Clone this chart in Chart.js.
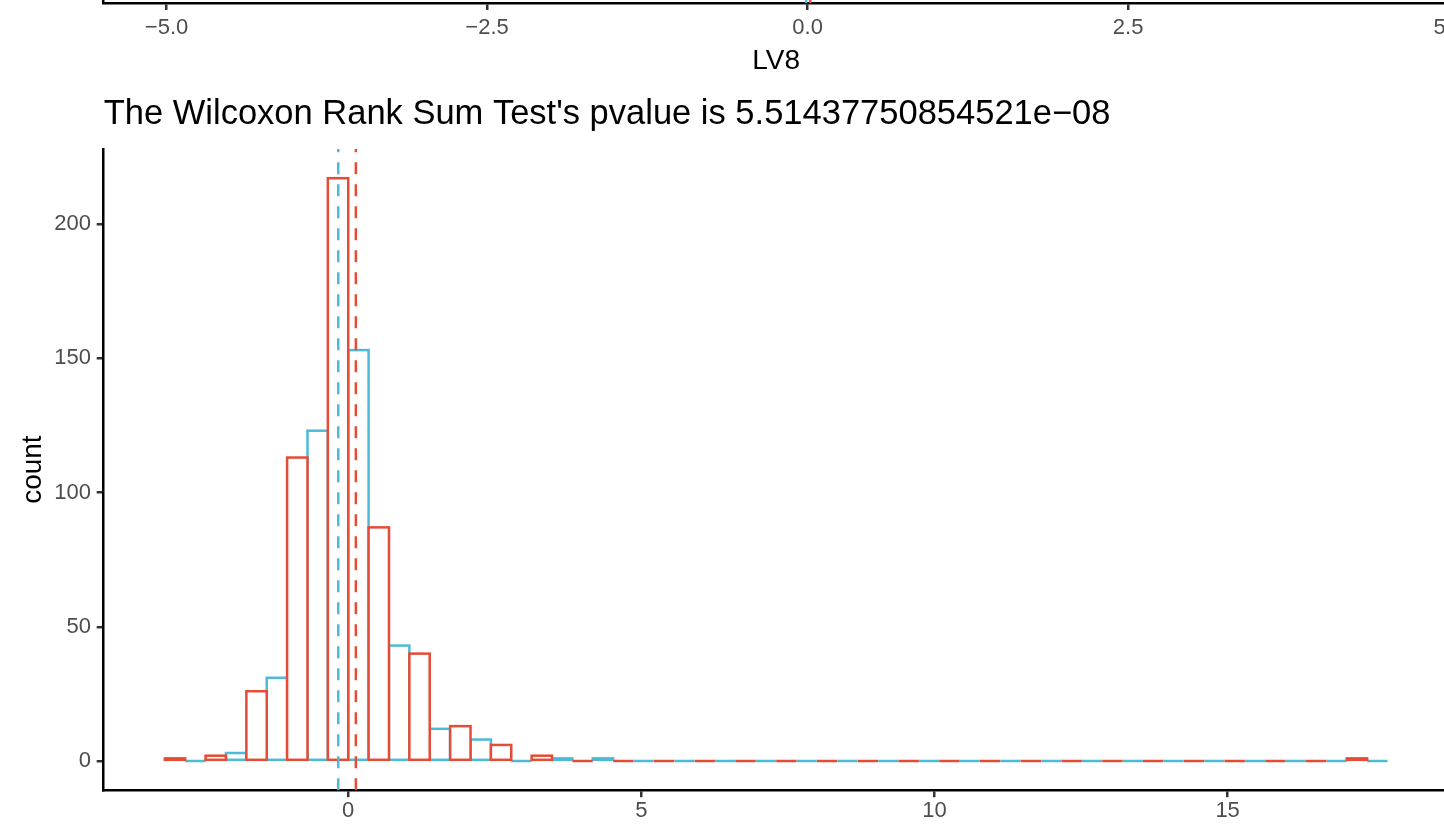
<!DOCTYPE html>
<html>
<head>
<meta charset="utf-8">
<script src="https://cdn.jsdelivr.net/npm/chart.js@4.4.1/dist/chart.umd.min.js"></script>
<style>
  html, body { margin: 0; padding: 0; background: #fff; overflow: hidden; }
  #page { position: relative; width: 1444px; height: 829px; overflow: hidden; background: #fff; }
  #lv8 { position: absolute; left: 0; top: -230px; }
  #hist { position: absolute; left: 0; top: 0; }
</style>
</head>
<body>
<div id="page">
  <canvas id="lv8" width="1500" height="310"></canvas>
  <canvas id="hist" width="1500" height="829"></canvas>
</div>
<script>
// ---- histogram of the second panel: 30 bins, two groups dodged in each bin ----
const binMids = [-2.781, -2.086, -1.390, -0.695, 0.000, 0.695, 1.390, 2.086, 2.781, 3.476,
                 4.171, 4.866, 5.562, 6.257, 6.952, 7.647, 8.342, 9.038, 9.733, 10.428,
                 11.123, 11.818, 12.514, 13.209, 13.904, 14.599, 15.294, 15.990, 16.685, 17.380];
const countsRed  = [1, 2, 26, 113, 217, 87, 40, 13, 6, 2,
                    0, 0, 0, 0, 0, 0, 0, 0, 0, 0,
                    0, 0, 0, 0, 0, 0, 0, 0, 0, 1];
const countsBlue = [0, 3, 31, 123, 153, 43, 12, 8, 0, 1,
                    1, 0, 0, 0, 0, 0, 0, 0, 0, 0,
                    0, 0, 0, 0, 0, 0, 0, 0, 0, 0];
const meanRed = 0.13;
const meanBlue = -0.17;
const xRange = [-4.171, 18.771];
const yRange = [-10.85, 227.85];
const xTicks = [0, 5, 10, 15];
const xTickLabels = ['0', '5', '10', '15'];
const yTicks = [0, 50, 100, 150, 200];
const yTickLabels = ['0', '50', '100', '150', '200'];
const titleText = "The Wilcoxon Rank Sum Test's pvalue is 5.51437750854521e\u221208";

// ---- bottom strip of the panel above (LV8 axis) ----
const lv8Range = [-5.49, 5.0];
const lv8Ticks = [-5, -2.5, 0, 2.5, 5];
const lv8TickLabels = ['\u22125.0', '\u22122.5', '0.0', '2.5', '5.0'];
const lv8MeanBlue = -0.012;
const lv8MeanRed = 0.02;

const RED = '#E64B35';
const BLUE = '#4DBBD5';
const FONT = "'Liberation Sans', Arial, Helvetica, sans-serif";
const TICK_FONT = { family: FONT, size: 22, lineHeight: 1 };
const AXIS_TITLE_FONT = { family: FONT, size: 28, lineHeight: 1.2 };
const LINE_W = 2.5;

// ggplot-style bar outlines: stroke centred on the bar edges, zero-height bars become flat lines
const histOutline = {
  id: 'histOutline',
  afterDatasetDraw(chart, args) {
    const meta = args.meta;
    if (meta.type !== 'bar') return;
    const ds = chart.data.datasets[args.index];
    const { ctx, chartArea } = chart;
    ctx.save();
    ctx.beginPath();
    ctx.rect(chartArea.left, chartArea.top, chartArea.right - chartArea.left, chartArea.bottom - chartArea.top);
    ctx.clip();
    ctx.strokeStyle = ds.outlineColor;
    ctx.lineWidth = LINE_W;
    ctx.lineJoin = 'miter';
    meta.data.forEach(bar => {
      const { x, y, base, width } = bar.getProps(['x', 'y', 'base', 'width'], true);
      ctx.strokeRect(x - width / 2, Math.min(y, base), width, Math.abs(base - y));
    });
    ctx.restore();
  }
};

// dashed vertical mean line, drawn from the bottom of the panel upwards
function vline(xv, y0, y1, color) {
  return {
    type: 'line',
    data: [{ x: xv, y: y0 }, { x: xv, y: y1 }],
    borderColor: color,
    borderWidth: LINE_W,
    borderDash: [12, 10],
    pointRadius: 0,
    fill: false,
    order: 0
  };
}

// LV8 axis strip
new Chart(document.getElementById('lv8'), {
  type: 'line',
  data: {
    datasets: [
      vline(lv8MeanBlue, 0, 1, BLUE),
      vline(lv8MeanRed, 0, 1, RED)
    ]
  },
  options: {
    responsive: false,
    animation: false,
    events: [],
    layout: { padding: { left: 0, right: 51.3, top: 0, bottom: 0 } },
    plugins: { legend: { display: false }, tooltip: { enabled: false }, title: { display: false } },
    scales: {
      x: {
        type: 'linear',
        min: lv8Range[0],
        max: lv8Range[1],
        offset: false,
        afterBuildTicks: s => { s.ticks = lv8Ticks.map(v => ({ value: v })); },
        afterFit: s => { s.height = 77; },
        ticks: {
          callback: v => lv8TickLabels[lv8Ticks.indexOf(v)],
          color: '#4D4D4D', font: TICK_FONT, padding: 7, maxRotation: 0, autoSkip: false
        },
        grid: { display: true, drawOnChartArea: false, drawTicks: true, tickLength: 7, color: '#333333', lineWidth: LINE_W, offset: false },
        border: { display: true, color: '#000000', width: LINE_W },
        title: { display: true, text: 'LV8', color: '#000000', font: AXIS_TITLE_FONT, padding: { top: 0, bottom: 2.2 } }
      },
      y: {
        type: 'linear',
        min: 0,
        max: 1,
        afterFit: s => { s.width = 103.7; },
        ticks: { display: false },
        grid: { display: false },
        border: { display: true, color: '#000000', width: LINE_W }
      }
    }
  }
});

// Histogram panel
new Chart(document.getElementById('hist'), {
  type: 'bar',
  data: {
    datasets: [
      vline(meanBlue, yRange[0], yRange[1], BLUE),
      vline(meanRed, yRange[0], yRange[1], RED),
      {
        label: 'red',
        data: binMids.map((m, i) => ({ x: m, y: countsRed[i] })),
        backgroundColor: '#ffffff',
        borderWidth: 0,
        outlineColor: RED,
        categoryPercentage: 1,
        barPercentage: 1,
        order: 1
      },
      {
        label: 'blue',
        data: binMids.map((m, i) => ({ x: m, y: countsBlue[i] })),
        backgroundColor: '#ffffff',
        borderWidth: 0,
        outlineColor: BLUE,
        categoryPercentage: 1,
        barPercentage: 1,
        order: 2
      }
    ]
  },
  options: {
    responsive: false,
    animation: false,
    events: [],
    layout: { padding: { left: 0, right: 51.3, top: 0, bottom: 0 } },
    plugins: {
      legend: { display: false },
      tooltip: { enabled: false },
      title: {
        display: true,
        text: titleText,
        align: 'start',
        fullSize: false,
        color: '#000000',
        font: { family: FONT, size: 34.5, weight: 'normal', lineHeight: 1 },
        padding: { top: 97.5, bottom: 17.05 }
      }
    },
    scales: {
      x: {
        type: 'linear',
        min: xRange[0],
        max: xRange[1],
        offset: false,
        afterBuildTicks: s => { s.ticks = xTicks.map(v => ({ value: v })); },
        afterFit: s => { s.height = 38.8; },
        ticks: {
          callback: v => xTickLabels[xTicks.indexOf(v)],
          color: '#4D4D4D', font: TICK_FONT, padding: 2.5, maxRotation: 0, autoSkip: false
        },
        grid: { display: true, drawOnChartArea: false, drawTicks: true, tickLength: 7, color: '#333333', lineWidth: LINE_W, offset: false },
        border: { display: true, color: '#000000', width: LINE_W }
      },
      y: {
        type: 'linear',
        min: yRange[0],
        max: yRange[1],
        afterBuildTicks: s => { s.ticks = yTicks.map(v => ({ value: v })); },
        afterFit: s => { s.width = 103.7; },
        ticks: {
          callback: v => yTickLabels[yTicks.indexOf(v)],
          color: '#4D4D4D', font: TICK_FONT, padding: 5.7, autoSkip: false
        },
        grid: { display: true, drawOnChartArea: false, drawTicks: true, tickLength: 7, color: '#333333', lineWidth: LINE_W },
        border: { display: true, color: '#000000', width: LINE_W },
        title: { display: true, text: 'count', color: '#000000', font: AXIS_TITLE_FONT, padding: { top: 16.2, bottom: 0 } }
      }
    }
  },
  plugins: [histOutline]
});
</script>
</body>
</html>
